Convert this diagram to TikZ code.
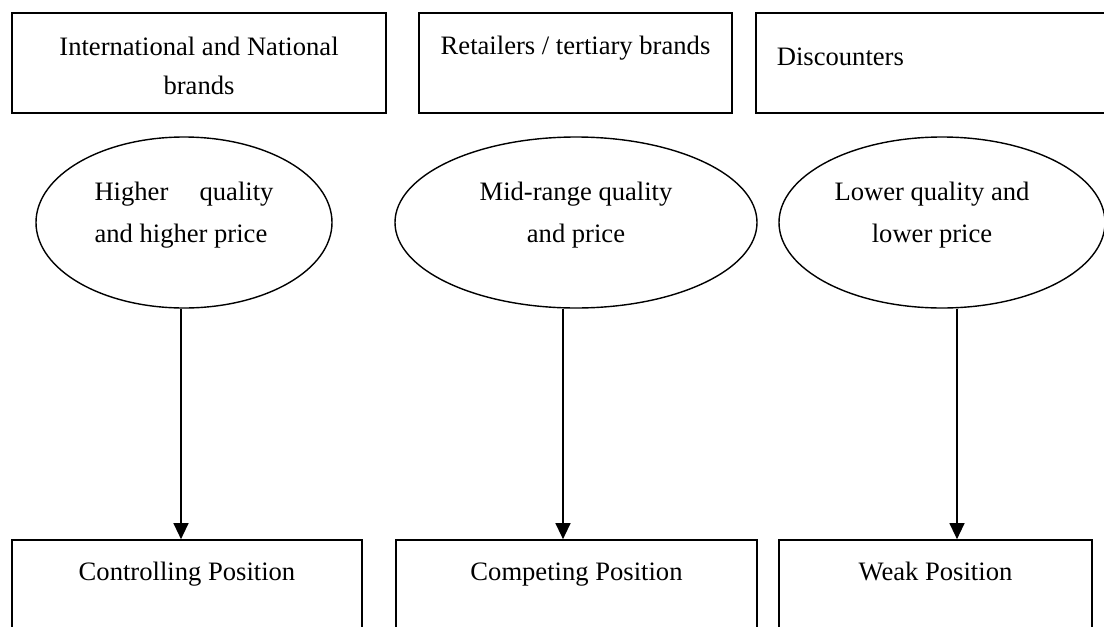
\documentclass[tikz,border=0pt]{standalone}
\usepackage{fontspec}
\setmainfont{Liberation Serif}
\usetikzlibrary{shapes.geometric,arrows.meta}
\tikzset{
  basetext/.style={font=\fontsize{26.6}{39}\selectfont, inner sep=0pt, text=black},
  box/.style={basetext, draw, rectangle, line width=1.7pt},
  oval/.style={basetext, font=\fontsize{26.6}{42}\selectfont, draw, ellipse, line width=1.4pt,
    minimum height=171pt, text height=20pt, text depth=64pt},
  arr/.style={line width=1.3pt, -{Triangle[length=16pt,width=15pt]}},
}
\begin{document}
\begin{tikzpicture}[x=1pt,y=-1pt]
\useasboundingbox (0,0) rectangle (1104,627);
% top boxes
\node[box, anchor=base, minimum width=374pt, text height=42pt, text depth=58pt] (t1) at (199,55)
  {\begin{tabular}[t]{@{}c@{}}International and National\\ brands\end{tabular}};
\node[box, anchor=base, minimum width=313pt, text height=41pt, text depth=59pt] (t2) at (575.5,54)
  {Retailers / tertiary brands};
\node[box, anchor=base west, inner xsep=21pt, text width=320pt, align=left, text height=52pt, text depth=48pt] (t3) at (755,65)
  {Discounters};
% ellipses
\node[oval, minimum width=296pt] (e1) at (184,222.5)
  {\begin{tabular}[t]{@{}l@{}}\makebox[179pt][l]{Higher\hfill quality}\\ and higher price\end{tabular}};
\node[oval, minimum width=362pt] (e2) at (576,222.5)
  {\begin{tabular}[t]{@{}c@{}}Mid-range quality\\ and price\end{tabular}};
\node[oval, minimum width=326pt] (e3) at (942,222.5)
  {\begin{tabular}[t]{@{}c@{}}Lower quality and\\ lower price\end{tabular}\hspace*{20pt}};
% bottom boxes
\node[box, anchor=base, minimum width=350pt, text height=40pt, text depth=100pt] (b1) at (187,580)
  {Controlling Position};
\node[box, anchor=base, minimum width=361pt, text height=40pt, text depth=100pt] (b2) at (576.5,580)
  {Competing Position};
\node[box, anchor=base, minimum width=313pt, text height=40pt, text depth=100pt] (b3) at (935.5,580)
  {Weak Position};
% connectors
\draw[arr] ([xshift=-3pt]e1.south) -- ([xshift=-3pt]e1.south |- b1.north);
\draw[arr] ([xshift=-13pt]e2.south) -- ([xshift=-13pt]e2.south |- b2.north);
\draw[arr] ([xshift=15pt]e3.south) -- ([xshift=15pt]e3.south |- b3.north);
\end{tikzpicture}
\end{document}
